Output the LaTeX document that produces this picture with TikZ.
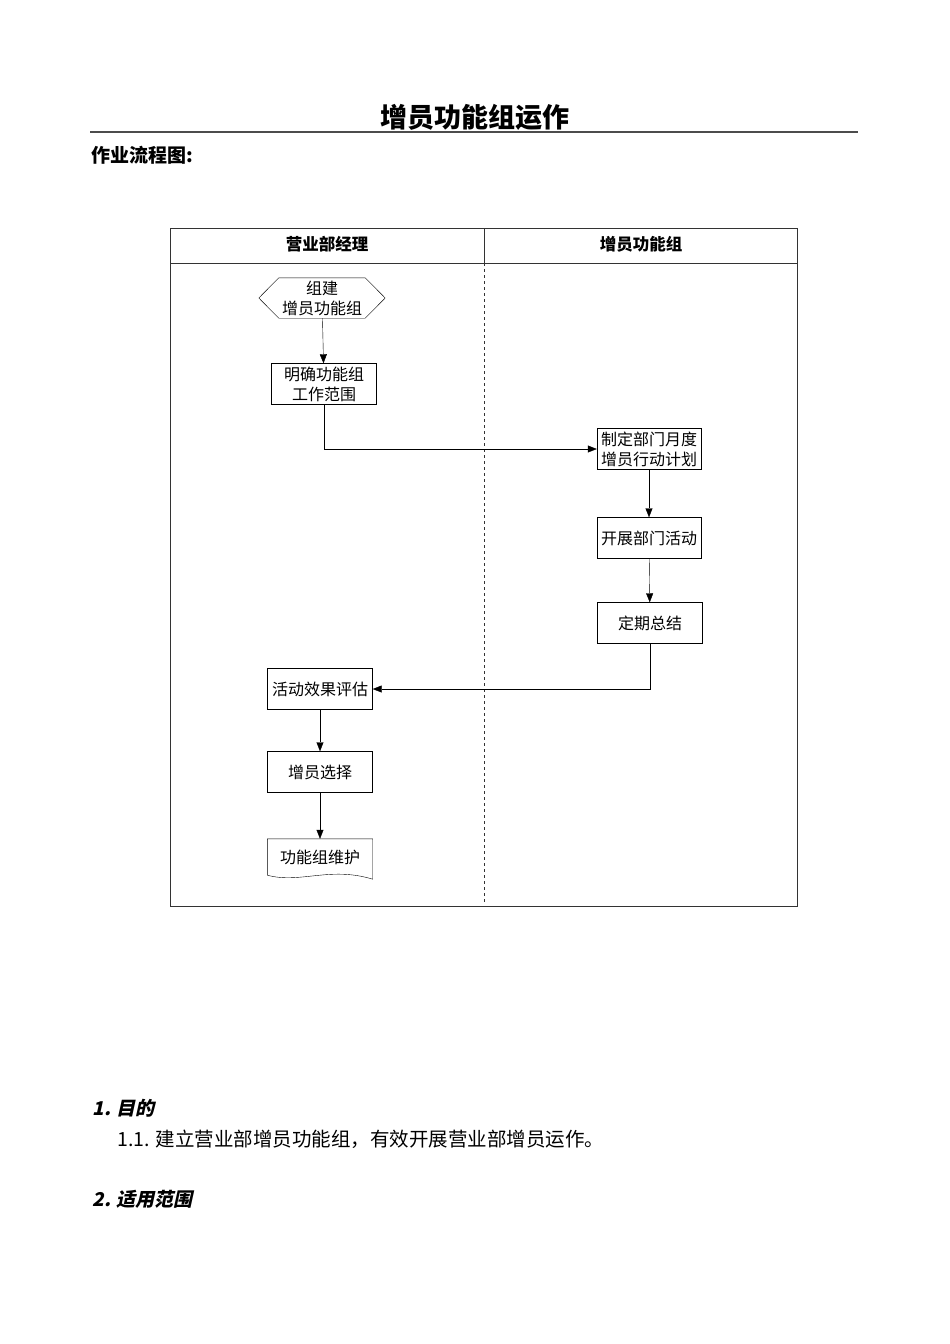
\documentclass[tikz,border=0pt]{standalone}
\usepackage{fontspec}
\setmainfont{Noto Sans CJK SC}
\newfontfamily\headit[FakeSlant=0.22,BoldFeatures={FakeSlant=0.22}]{Noto Sans CJK SC}
\usetikzlibrary{arrows.meta}

\begin{document}
\begin{tikzpicture}[x=1pt, y=-1pt, >={Triangle[length=9pt,width=7pt]},
        box/.style={draw, minimum width=105pt, minimum height=41pt, inner sep=1pt, align=center, font=\fontsize{16}{20}\selectfont},
        lanehead/.style={font=\fontsize{16.5}{20}\selectfont\bfseries}]
        \useasboundingbox (0,0) rectangle (950,1344);

        % 标题
        \node at (475,117) {\fontsize{27}{30}\selectfont\bfseries 增员功能组运作};
        \draw[line width=1.6pt, black!70] (90,132) -- (858,132);
        \node[anchor=west] at (88,155) {\fontsize{19}{22}\selectfont\bfseries 作业流程图:};

        % 泳道
        \draw[black!80] (170,228) rectangle (797,906);
        \draw[black!80] (170,263) -- (797,263);
        \draw[black!80] (484,228) -- (484,263);
        \draw[black!80, dashed] (484,263) -- (484,902);
        \node[lanehead] at (327,244) {营业部经理};
        \node[lanehead] at (641,244) {增员功能组};

        % 步骤
        \node[box, draw=none, minimum width=126pt, minimum height=40pt] (build) at (322,298) {组建\\增员功能组};
        \draw ([xshift=20pt]build.north west) -- ([xshift=-20pt]build.north east) -- (build.east)
              -- ([xshift=-20pt]build.south east) -- ([xshift=20pt]build.south west) -- (build.west) -- cycle;
        \node[box] (scope) at (324,384) {明确功能组\\工作范围};
        \node[box, minimum width=104pt] (plan) at (649,449) {制定部门月度\\增员行动计划};
        \node[box, minimum width=104pt] (act) at (649,538) {开展部门活动};
        \node[box] (sum) at (650,623) {定期总结};
        \node[box] (eval) at (320,689) {活动效果评估};
        \node[box] (pick) at (320,772) {增员选择};
        \node[box, draw=none, minimum height=36pt] (keep) at (320,857) {功能组维护};
        \draw (keep.south west) -- (keep.north west) -- (keep.north east) -- ([yshift=-4pt]keep.south east)
              .. controls (330,866) and (300,884) .. (keep.south west);

        % 连线
        \draw[->] (build) -- (scope);
        \draw[->] (scope.south) |- (plan.west);
        \draw[->] (plan) -- (act);
        \draw[->] (act) -- (sum);
        \draw[->] (sum.south) |- (eval.east);
        \draw[->] (eval) -- (pick);
        \draw[->] (pick) -- (keep.north);

        % 正文
        \node[anchor=west] at (89,1108) {\fontsize{19}{22}\selectfont\headit\bfseries 1. 目的};
        \node[anchor=west] at (114,1139) {\fontsize{19.5}{22}\selectfont 1.1. 建立营业部增员功能组，有效开展营业部增员运作。};
        \node[anchor=west] at (89,1199) {\fontsize{19}{22}\selectfont\headit\bfseries 2. 适用范围};
\end{tikzpicture}
\end{document}
